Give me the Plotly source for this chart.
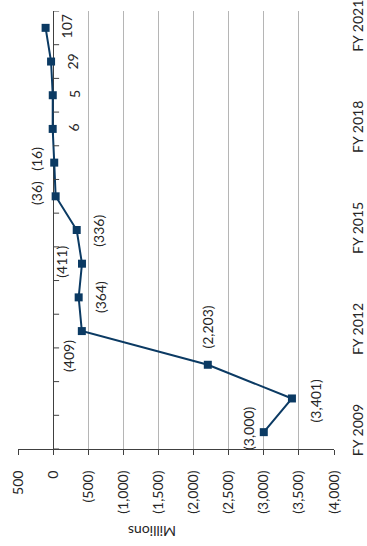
import plotly.graph_objects as go

# Net result by fiscal year, in millions (negative = loss)
fiscal_years = ["FY 2009", "FY 2010", "FY 2011", "FY 2012", "FY 2013", "FY 2014", "FY 2015",
                "FY 2016", "FY 2017", "FY 2018", "FY 2019", "FY 2020", "FY 2021"]
net_result = [-3000, -3401, -2203, -409, -364, -411, -336, -36, -16, 6, 5, 29, 107]

# Axis ticks
value_ticks = [500, 0, -500, -1000, -1500, -2000, -2500, -3000, -3500, -4000]
year_ticks = ["FY 2009", "FY 2012", "FY 2015", "FY 2018", "FY 2021"]

# Pixel offsets of each value label from its marker (x right, y up)
label_shift = [(-16, 4), (24, -2), (0, 38), (-14, -25), (22, 0), (-20, 2), (21, -1),
               (-19, 3), (-18, 4), (21, 1), (21, 1), (21, 0), (21, 1)]

NAVY = "#0b3a63"
AXIS = "#404040"
GRID = "#b5b5b5"
TEXT = "#262626"
FONT = "Lato"


def fmt(v):
    return f"({abs(v):,})" if v < 0 else f"{v:,}"


fig = go.Figure()
fig.add_trace(go.Scatter(
    x=net_result, y=fiscal_years, mode="lines+markers",
    line=dict(color=NAVY, width=2),
    marker=dict(symbol="square", size=8, color=NAVY),
    hoverinfo="skip", showlegend=False,
))

annotations = []
for yr, v, (dx, dy) in zip(fiscal_years, net_result, label_shift):
    annotations.append(dict(
        x=v, y=yr, xref="x", yref="y", text=fmt(v), showarrow=False,
        textangle=-90, xanchor="center", yanchor="middle",
        xshift=dx, yshift=dy, font=dict(family=FONT, size=14, color=TEXT),
    ))
annotations.append(dict(
    x=0.424, y=-0.19, xref="paper", yref="paper", text="Millions", showarrow=False,
    textangle=180, xanchor="center", yanchor="middle",
    font=dict(family=FONT, size=14, color=TEXT),
))

# Tick marks between categories along the zero line
shapes = []
for b in range(len(fiscal_years) + 1):
    shapes.append(dict(
        type="line", xref="x", yref="y", xsizemode="pixel", xanchor=0,
        x0=0, x1=6, y0=b - 0.5, y1=b - 0.5,
        line=dict(color=AXIS, width=1),
    ))

fig.update_layout(
    width=367, height=546,
    margin=dict(l=18, r=33, t=11, b=97),
    paper_bgcolor="white", plot_bgcolor="white",
    font=dict(family=FONT, size=14, color=TEXT),
    annotations=annotations, shapes=shapes,
    xaxis=dict(
        range=[500, -4000], tickmode="array", tickvals=value_ticks,
        ticktext=[fmt(v) for v in value_ticks], tickangle=-90,
        showgrid=True, gridcolor=GRID, gridwidth=1,
        zeroline=True, zerolinecolor=AXIS, zerolinewidth=1,
        showline=True, linecolor=AXIS, linewidth=1,
        ticks="outside", ticklen=5, tickcolor=AXIS,
        ticklabelstandoff=10, automargin=False,
        tickfont=dict(family=FONT, size=14, color=TEXT),
    ),
    yaxis=dict(
        type="category", categoryorder="array", categoryarray=fiscal_years,
        range=[-0.5, len(fiscal_years) - 0.5], side="right",
        tickmode="array", tickvals=year_ticks, tickangle=-90,
        showgrid=False, showline=False, zeroline=False, ticks="",
        ticklabelstandoff=14, automargin=False,
        tickfont=dict(family=FONT, size=14, color=TEXT),
    ),
)

fig.write_html("out.html")
